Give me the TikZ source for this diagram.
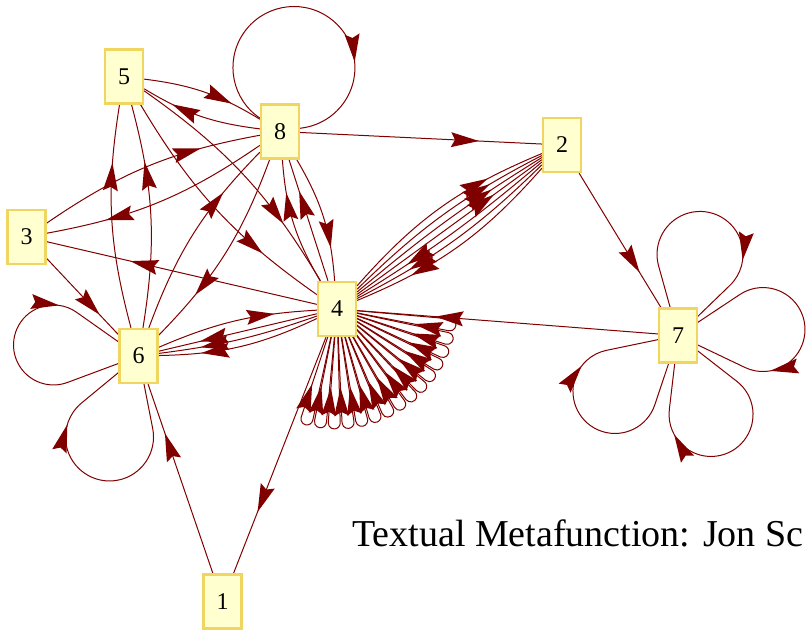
\documentclass[tikz,border=0pt]{standalone}
\usepackage{fontspec}
\setmainfont{Liberation Serif}
\usetikzlibrary{calc,decorations.markings}
\pgfdeclarelayer{edges}
\pgfsetlayers{edges,main}

\definecolor{edgecol}{RGB}{128,0,0}
\definecolor{boxfill}{RGB}{255,255,208}
\definecolor{boxline}{RGB}{240,214,96}

\tikzset{
  vtx/.style={rectangle, draw=boxline, fill=boxfill, line width=2.4pt,
    minimum width=38pt, minimum height=54pt, inner sep=0pt,
    font=\fontsize{24}{24}\selectfont},
  edge/.style={draw=edgecol, line width=1pt},
  % arrowhead drawn along the edge, its point at the given fraction of the path
  tipmark/.style={postaction={decorate, decoration={markings,
    mark=at position #1 with {\fill[edgecol] (0pt,0pt) -- (-28pt,7.5pt)
      -- (-24pt,0pt) -- (-28pt,-7.5pt) -- cycle;}}}},
  tipmark/.default=0.74,
}

% teardrop self-loop: node, axis angle, centre distance, radius, arrow position
\newcommand\vloop[5]{%
  \pgfmathsetmacro\lpb{asin(#4/#3)}%
  \pgfmathsetmacro\lps{#2-90-\lpb}%
  \pgfmathsetmacro\lpe{#2+90+\lpb}%
  \draw[edge,tipmark=#5] (#1.center) -- ($(#1.center)+(#2:#3)+(\lps:#4)$)
    arc[start angle=\lps, end angle=\lpe, radius=#4] -- (#1.center);
}

\begin{document}
\begin{tikzpicture}[x=1pt,y=-1pt]
\useasboundingbox (0,0) rectangle (806,632);
\clip (0,0) rectangle (806,632);

\node[vtx] (n1) at (222.5,601.5) {1};
\node[vtx] (n2) at (562,145) {2};
\node[vtx] (n3) at (26.5,237) {3};
\node[vtx] (n4) at (337,309) {4};
\node[vtx] (n5) at (124,76.5) {5};
\node[vtx] (n6) at (138.5,356) {6};
\node[vtx] (n7) at (678,335.5) {7};
\node[vtx] (n8) at (280,131.5) {8};

\node[anchor=base west, font=\fontsize{38}{40}\selectfont, inner sep=0pt]
  (caption) at (352,546) {Textual Metafunction: Jon Sc};

\begin{pgfonlayer}{edges}
  % pairs between 5 and 8
  \draw[edge,tipmark] (n5) to[bend left=12] (n8);
  \draw[edge,tipmark] (n8) to[bend left=12] (n5);
  % 5 to 4
  \draw[edge,tipmark] (n5) to[bend left=12] (n4);
  \draw[edge,tipmark] (n5) to[bend right=12] (n4);
  % 6 to 5
  \draw[edge,tipmark] (n6) to[bend left=12] (n5);
  \draw[edge,tipmark] (n6) to[bend right=12] (n5);
  % 3 and 8
  \draw[edge,tipmark] (n3) to[bend left=12] (n8);
  \draw[edge,tipmark] (n8) to[bend left=12] (n3);
  % 6 and 8
  \draw[edge,tipmark] (n6) to[bend left=12] (n8);
  \draw[edge,tipmark] (n8) to[bend left=12] (n6);
  % 8 and 4
  \draw[edge,tipmark] (n8) to[bend left=13] (n4);
  \draw[edge,tipmark] (n4) to[bend left=13] (n8);
  \draw[edge,tipmark] (n4) -- (n8);
  % straight edges
  \draw[edge,tipmark=0.69] (n4) -- (n3);
  \draw[edge,tipmark] (n3) -- (n6);
  \draw[edge,tipmark] (n8) -- (n2);
  \draw[edge,tipmark] (n2) -- (n7);
  \draw[edge,tipmark] (n7) -- (n4);
  \draw[edge,tipmark] (n4) -- (n1);
  \draw[edge,tipmark] (n1) -- (n6);
  % bundle between 4 and 2
  \draw[edge,tipmark] (n4) to[bend left=13] (n2);
  \draw[edge,tipmark] (n4) to[bend left=8.5] (n2);
  \draw[edge,tipmark] (n4) to[bend left=4.2] (n2);
  \draw[edge,tipmark] (n4) -- (n2);
  \draw[edge,tipmark] (n2) to[bend left=4.2] (n4);
  \draw[edge,tipmark] (n2) to[bend left=8.5] (n4);
  \draw[edge,tipmark] (n2) to[bend left=13] (n4);
  % between 6 and 4
  \draw[edge,tipmark] (n6) to[bend left=10] (n4);
  \draw[edge,tipmark] (n4) -- (n6);
  \draw[edge,tipmark] (n4) to[bend left=6] (n6);
  \draw[edge,tipmark] (n4) to[bend left=12] (n6);

  % self-loops
  \vloop{n8}{-77.7}{65.5}{61}{0.70}
  \vloop{n6}{187.4}{85.7}{40}{0.70}
  \vloop{n6}{109.7}{86}{44}{0.70}
  \vloop{n7}{-74.8}{84}{43}{0.69}
  \vloop{n7}{-4}{85.2}{42}{0.69}
  \vloop{n7}{67.3}{85.6}{42}{0.69}
  \vloop{n7}{138.4}{84.3}{42}{0.68}
  \foreach \k in {0,...,14}{
    \pgfmathsetmacro\ang{8+6.95*\k}
    \vloop{n4}{\ang}{114}{6}{0.68}
  }
\end{pgfonlayer}
\end{tikzpicture}
\end{document}
